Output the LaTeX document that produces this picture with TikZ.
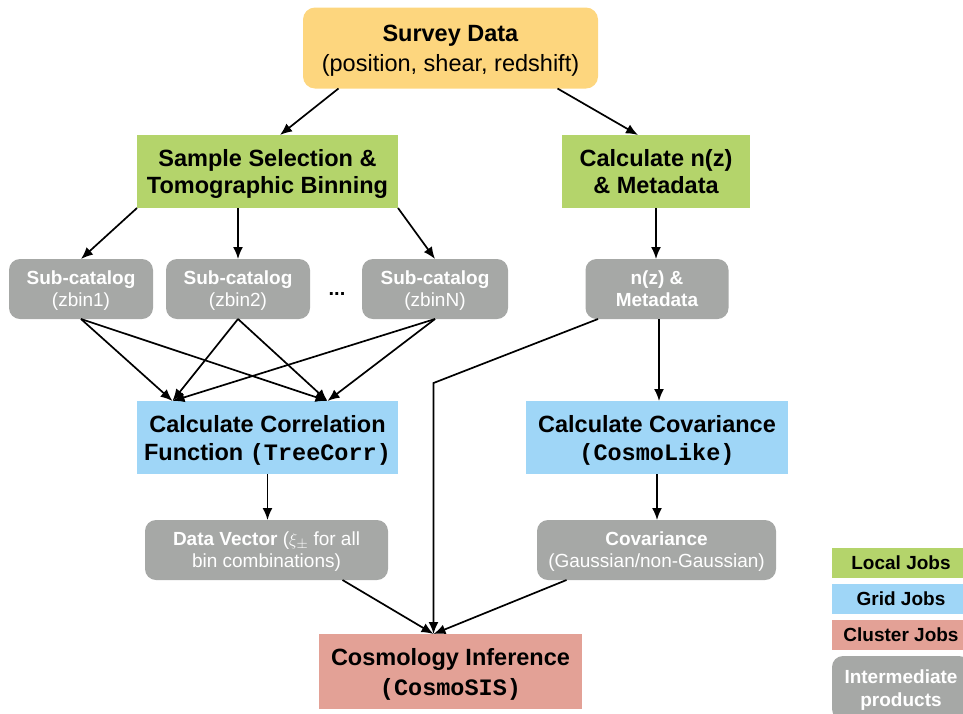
\documentclass[tikz,border=0pt]{standalone}
\usepackage{fontspec}
\setmainfont{Liberation Sans}
\setmonofont{Liberation Mono}
\usetikzlibrary{positioning,arrows.meta}

\definecolor{surveyorange}{HTML}{FDD67E}
\definecolor{localgreen}{HTML}{B4D46B}
\definecolor{gridblue}{HTML}{9FD6F7}
\definecolor{clusterpink}{HTML}{E3A196}
\definecolor{productgrey}{HTML}{A6A8A6}

\begin{document}
\begin{tikzpicture}[x=1pt, y=-1pt,
    every node/.style = {inner sep=0pt, outer sep=0pt, align=center},
    link/.style = {draw, line width=1.7pt, -{Latex[length=12pt,width=10pt]}},
    every edge/.style = {link},
    surveybox/.style = {fill=surveyorange, rounded corners=12pt,
      minimum width=295pt, minimum height=81pt, text depth=-5pt,
      font=\fontsize{23.5}{30}\selectfont},
    localjob/.style = {fill=localgreen, minimum height=73pt, text depth=-5pt,
      font=\fontsize{23.5}{27}\selectfont\bfseries},
    gridjob/.style = {fill=gridblue, minimum height=73pt, text depth=-5pt,
      font=\fontsize{23.5}{28}\selectfont\bfseries},
    clusterjob/.style = {fill=clusterpink, minimum height=75pt, text depth=-4pt,
      font=\fontsize{23.5}{30}\selectfont\bfseries},
    product/.style = {fill=productgrey, rounded corners=11pt,
      minimum height=60pt, text=white, text depth=-2pt,
      font=\fontsize{19}{22}\selectfont},
    key/.style = {minimum width=138pt, minimum height=30pt,
      font=\fontsize{19}{23}\selectfont\bfseries}]
  \useasboundingbox (0,0) rectangle (963,713);

  % jobs and products
  \node (survey) [surveybox] at (450.5,48)
    {\textbf{Survey Data}\\(position, shear, redshift)};
  \node (select) [localjob, minimum width=261pt] at (267.5,171.5)
    {Sample Selection \&\\Tomographic Binning};
  \node (nzcalc) [localjob, minimum width=188pt] at (656,171.5)
    {Calculate n(z)\\\& Metadata};
  \node (sub1) [product, minimum width=144pt] at (81,289)
    {\textbf{Sub-catalog}\\(zbin1)};
  \node (sub2) [product, minimum width=144pt, right = 13pt of sub1]
    {\textbf{Sub-catalog}\\(zbin2)};
  \node (subN) [product, minimum width=146pt, right = 52pt of sub2]
    {\textbf{Sub-catalog}\\(zbinN)};
  \node (dots) [font=\fontsize{20}{20}\selectfont\bfseries] at (337,294) {...};
  \node (nzmeta) [product, minimum width=143pt] at (657,289)
    {\textbf{n(z) \&}\\\textbf{Metadata}};
  \node (corr) [gridjob, minimum width=261pt] at (267.5,437.5)
    {Calculate Correlation\\Function \texttt{(TreeCorr)}};
  \node (cov) [gridjob, minimum width=262pt] at (657,437.5)
    {Calculate Covariance\\\texttt{(CosmoLike)}};
  \node (vec) [product, minimum width=243pt] at (266.5,550)
    {\textbf{Data Vector} ($\xi_{\pm}$ for all\\bin combinations)};
  \node (covout) [product, minimum width=239pt] at (656.5,550)
    {\textbf{Covariance}\\(Gaussian/non-Gaussian)};
  \node (infer) [clusterjob, minimum width=263pt] at (450.5,671.5)
    {Cosmology Inference\\\texttt{(CosmoSIS)}};

  % legend
  \node (keylocal) [key, fill=localgreen] at (901,563) {Local Jobs};
  \node (keygrid) [key, fill=gridblue, below = 6pt of keylocal] {Grid Jobs};
  \node (keycluster) [key, fill=clusterpink, below = 6pt of keygrid] {Cluster Jobs};
  \node (keyproduct) [product, key, minimum height=64pt, text depth=0pt,
    below = 6pt of keycluster] {Intermediate\\products};

  % arrow ends
  \coordinate (corrin1) at ([xshift=-95pt]corr.north);
  \coordinate (corrin2) at ([xshift=60pt]corr.north);
  \coordinate (inferin) at ([xshift=-17pt]infer.north);

  \draw ([xshift=-112pt]survey.south) edge ([xshift=12.5pt]select.north);
  \draw ([xshift=107pt]survey.south) edge ([xshift=-18pt]nzcalc.north);
  \draw (select.south west) edge (sub1.north);
  \draw (sub2.north |- select.south) edge (sub2.north);
  \draw (select.south east) edge (subN.north);
  \draw (nzcalc.south) edge (nzcalc.south |- nzmeta.north);
  \foreach \sub in {sub1, sub2, subN}
    \draw (\sub.south) edge (corrin1) edge (corrin2);
  \draw [link] ([xshift=-59pt]nzmeta.south) -- (inferin |- 0,383) -- (inferin);
  \draw ([xshift=2pt]nzmeta.south) edge ([xshift=2pt]nzmeta.south |- cov.north);
  \draw (corr.south) edge (corr.south |- vec.north);
  \draw (cov.south) edge (cov.south |- covout.north);
  \draw ([xshift=76pt]vec.south) edge (inferin);
  \draw ([xshift=-90pt]covout.south) edge (inferin);
\end{tikzpicture}
\end{document}
